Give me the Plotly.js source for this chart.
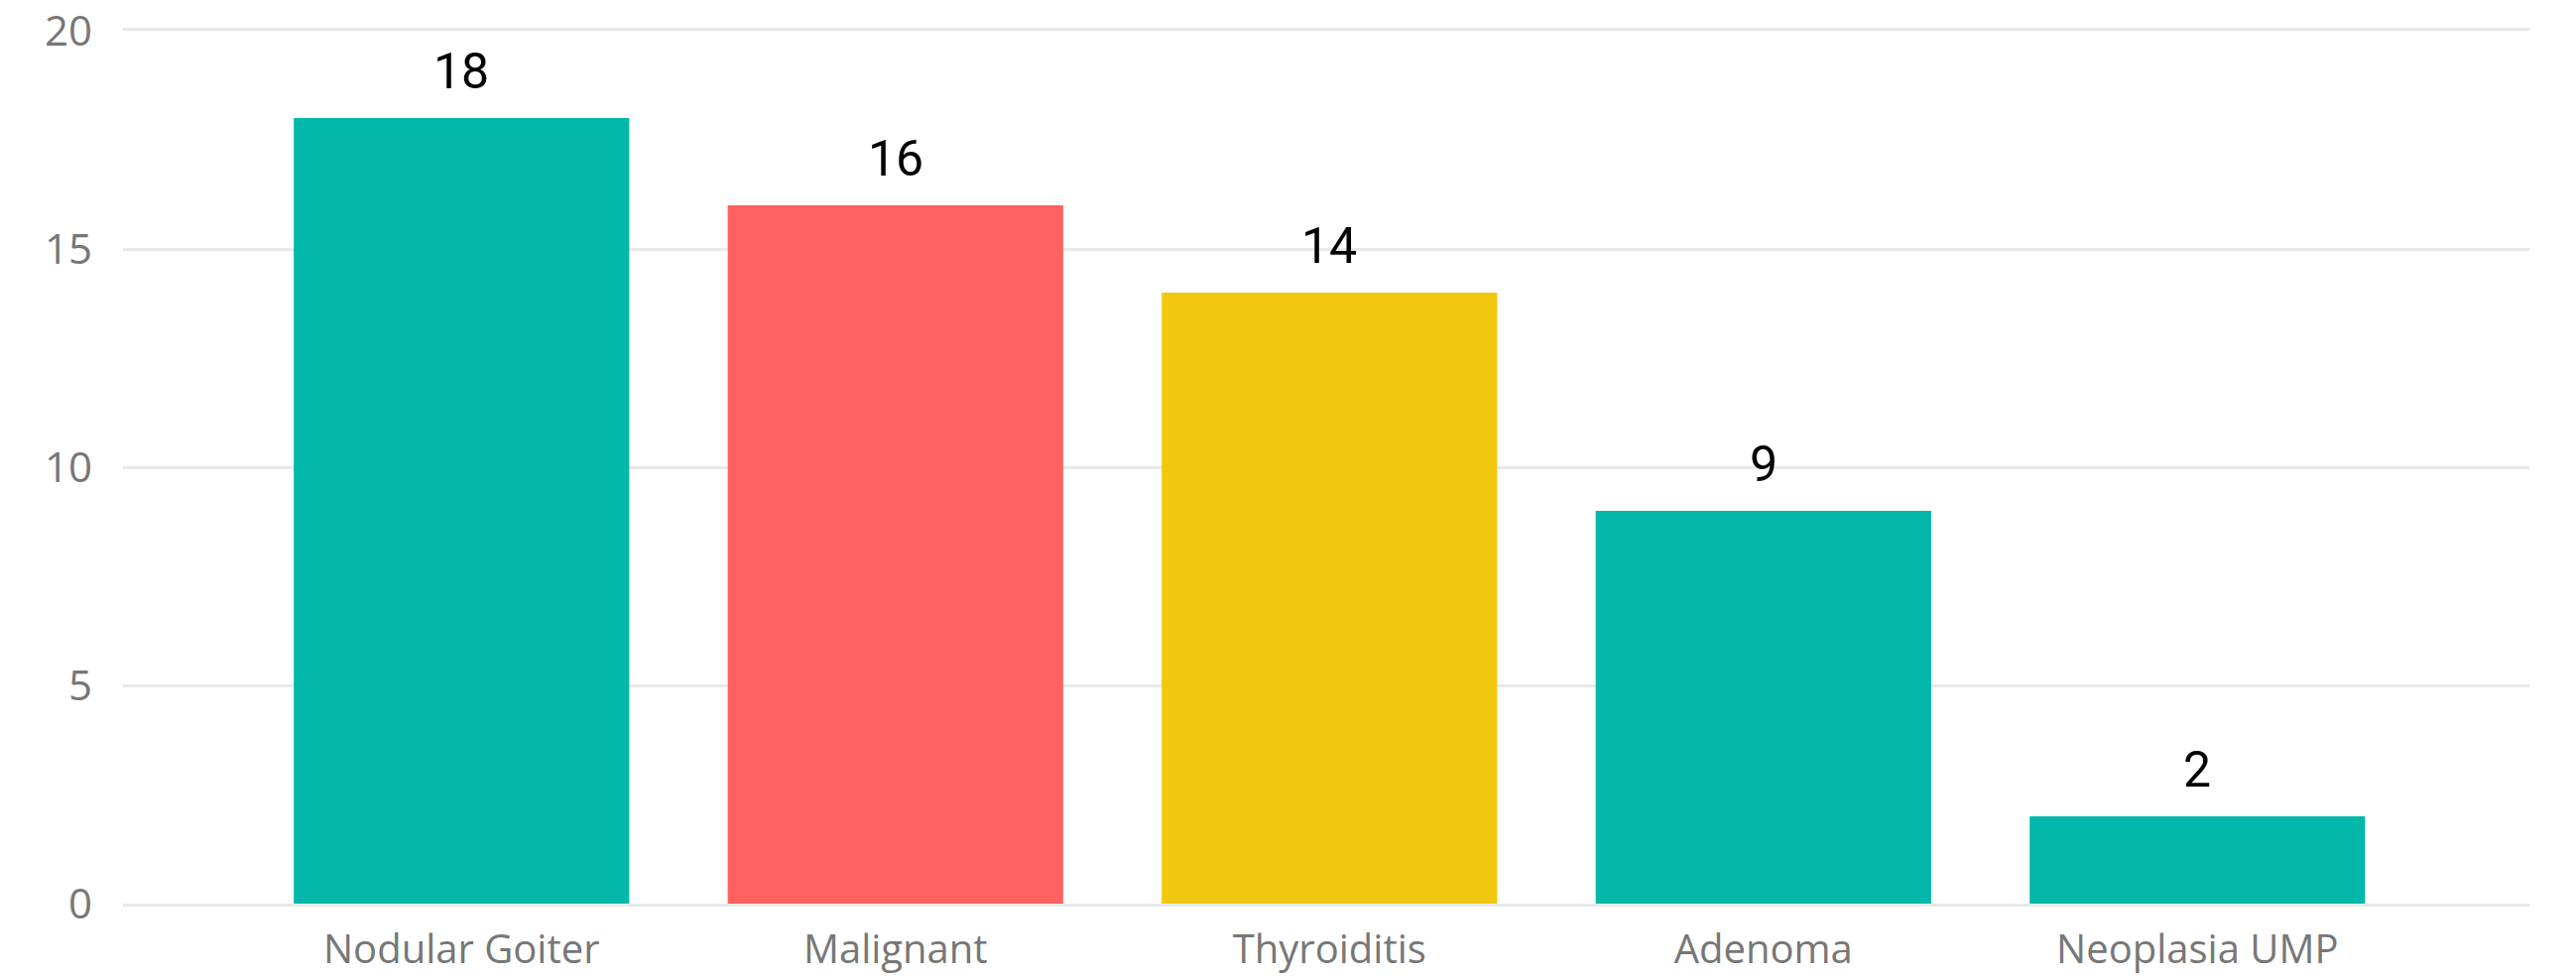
<!DOCTYPE html>
<html>
<head>
<meta charset="utf-8">
<script src="https://cdn.plot.ly/plotly-3.0.1.min.js"></script>
<style>
  html, body { margin: 0; padding: 0; background: #fff; }
  #chart { width: 2597px; height: 986px; }
</style>
</head>
<body>
<div id="chart"></div>
<script>
const chart = document.getElementById('chart');

// Data
const categories = ['Nodular Goiter', 'Malignant', 'Thyroiditis', 'Adenoma', 'Neoplasia UMP'];
const counts = [18, 16, 14, 9, 2];
const barColors = ['#01B8AA', '#FD625E', '#F2C80F', '#01B8AA', '#01B8AA'];
const yTicks = [0, 5, 10, 15, 20];

const trace = {
  type: 'bar',
  x: categories,
  y: counts,
  marker: { color: barColors },
  hoverinfo: 'x+y'
};

// value labels above each bar
const labels = categories.map((c, i) => ({
  x: c,
  y: counts[i],
  text: String(counts[i]),
  showarrow: false,
  yanchor: 'bottom',
  yshift: 16,
  font: { family: 'Roboto, sans-serif', size: 50, color: '#000' }
}));

const layout = {
  width: 2597,
  height: 986,
  margin: { l: 124, r: 47, t: 31, b: 75 },
  paper_bgcolor: '#fff',
  plot_bgcolor: '#fff',
  showlegend: false,
  bargap: 0.227,
  font: { family: '"Open Sans", sans-serif', color: '#777777' },
  xaxis: {
    range: [-0.78, 4.765],
    showgrid: false,
    // top and bottom edge lines stand in for the 20 and 0 gridlines
    showline: true,
    mirror: true,
    linecolor: '#e9e9e9',
    linewidth: 3,
    zeroline: false,
    ticks: '',
    tickfont: { size: 40, color: '#777777' },
    ticklabelstandoff: 9
  },
  yaxis: {
    range: [0, 20],
    tickvals: yTicks,
    showgrid: true,
    gridcolor: '#e9e9e9',
    gridwidth: 3,
    zeroline: false,
    showline: false,
    ticks: '',
    tickfont: { size: 42, color: '#777777' },
    ticklabelstandoff: 30
  },
  annotations: labels
};

Plotly.newPlot(chart, [trace], layout, { displayModeBar: false, staticPlot: true });
</script>
</body>
</html>
